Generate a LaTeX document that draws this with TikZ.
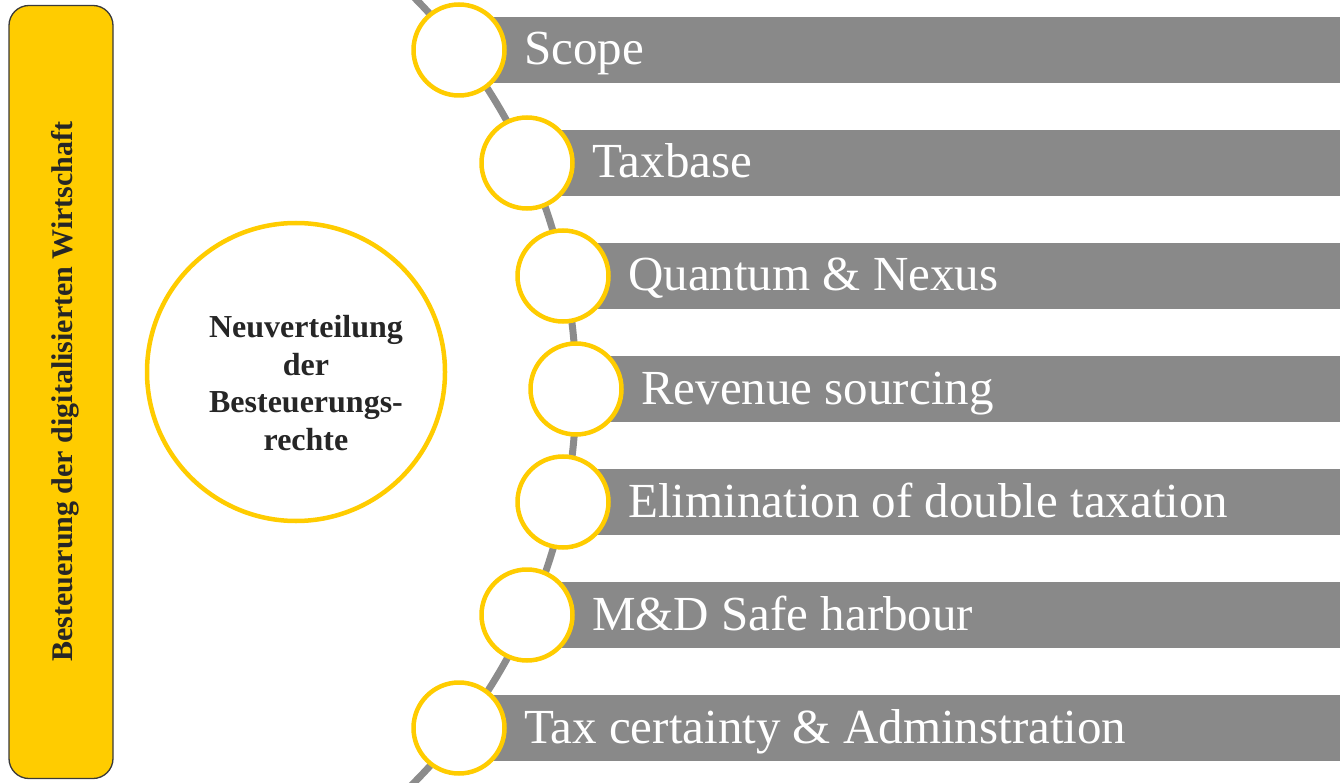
\documentclass[tikz,border=0pt]{standalone}
\usepackage{fontspec}
\setmainfont{Liberation Serif}
\definecolor{ey}{HTML}{FFCC00}
\definecolor{bargray}{HTML}{898989}
\definecolor{arcgray}{HTML}{8C8C8C}
\definecolor{darktext}{HTML}{262626}
\definecolor{boxborder}{HTML}{3A3A3A}
\tikzset{
  sidebox/.style={draw=boxborder, line width=1.3pt, fill=ey, rounded corners=20pt, minimum width=104pt, minimum height=773pt, inner sep=0pt},
  sidetext/.style={rotate=90, anchor=base, text=darktext, font=\bfseries\fontsize{30}{36}\selectfont, inner sep=0pt},
  bigcirc/.style={circle, draw=ey, line width=4.5pt, fill=white, minimum size=298pt, inner sep=0pt},
  bigtext/.style={align=center, text=darktext, font=\bfseries\fontsize{32}{37.7}\selectfont, inner sep=0pt},
  smallcirc/.style={circle, draw=ey, line width=4.5pt, fill=white, minimum size=91pt, inner sep=0pt, outer sep=0pt},
  barfill/.style={fill=bargray},
  barlabel/.style={anchor=base west, text=white, font=\fontsize{49}{55}\selectfont, inner sep=0pt},
  arcline/.style={draw=arcgray, line width=7pt}
}
\begin{document}
\begin{tikzpicture}[x=1pt,y=-1pt]
\useasboundingbox (0,0) rectangle (1340,783);
% side box
\node[sidebox] (side) at (61,392) {};
\node[sidetext] (sidelabel) at (72,391.5) {Besteuerung der digitalisierten Wirtschaft};
% big circle
\node[bigcirc] (main) at (296,372) {};
\node[bigtext] (maintext) at (306,383) {Neuverteilung\\der\\Besteuerungs-\\rechte};
% arc
\begin{scope}
\clip (0,0) rectangle (1340,783);
\draw[arcline] (19,390) circle[radius=557pt];
\end{scope}
% bars, circles, labels
\foreach \i/\cx/\cy/\txt in {1/459/50/Scope, 2/527/163/Taxbase, 3/563/276/Quantum \& Nexus, 4/576/389/Revenue sourcing, 5/563/502/Elimination of double taxation, 6/527/615/M\&D Safe harbour, 7/459/728/Tax certainty \& Adminstration}{
  \fill[barfill] (\cx,\cy-33) rectangle (1340,\cy+33);
  \node[smallcirc] (c\i) at (\cx,\cy) {};
  \node[barlabel] (t\i) at (\cx+65,\cy+15) {\txt};
}
\end{tikzpicture}
\end{document}
